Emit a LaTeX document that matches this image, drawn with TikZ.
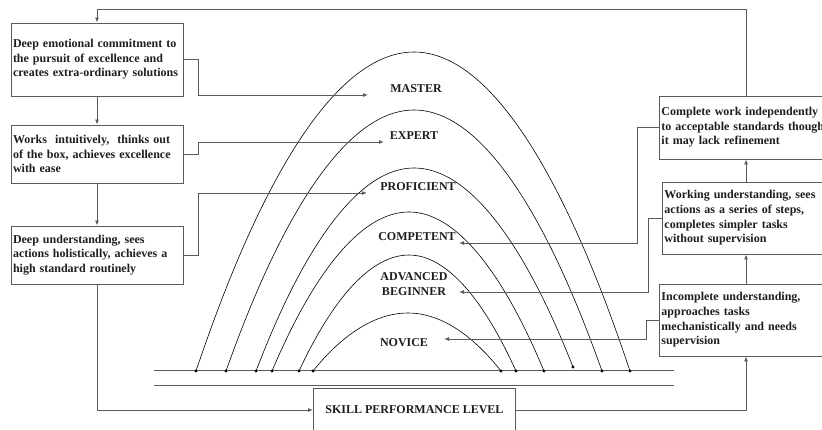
\documentclass[tikz,border=0pt]{standalone}
\usepackage{fontspec}
\setmainfont{Liberation Serif}
\usetikzlibrary{arrows.meta}
\definecolor{boxgray}{HTML}{5A5A5A}
\definecolor{inkgray}{HTML}{1E1E1E}
\begin{document}
\begin{tikzpicture}[x=1pt,y=-1pt,
  every node/.style={font=\fontsize{12}{14.6}\selectfont\bfseries, text=inkgray},
  textbox/.style={draw=boxgray, line width=0.9pt, align=left, inner xsep=2pt, inner ysep=0pt},
  lbox/.style={textbox, text width=168pt, minimum width=172pt},
  rbox/.style={textbox, text width=178pt, minimum width=182pt, anchor=west},
  level/.style={align=center, inner sep=0pt},
  conn/.style={draw=boxgray, line width=0.9pt},
  arr/.style={conn, -{Latex[length=5pt,width=4pt]}},
  arc/.style={draw=black, line width=0.6pt},
  base/.style={draw=boxgray, line width=1pt},
  dot/.style={fill=black, circle, inner sep=0pt, minimum size=3.2pt}
]
\useasboundingbox (0,0) rectangle (822,430);
\clip (0,0) rectangle (822,430);
\fill[white] (0,0) rectangle (822,430);

% left column of descriptions
\node[lbox, minimum height=73pt] (b1) at (97,59.5)
  {Deep emotional commitment to\\the pursuit of excellence and\\creates extra-ordinary solutions};
\node[lbox, minimum height=58pt] (b2) at (97,154)
  {Works\ \ intuitively,\ \ thinks out\\of the box, achieves excellence\\with ease};
\node[lbox, minimum height=58pt] (b3) at (97,255)
  {Deep understanding, sees\\actions holistically, achieves a\\high standard routinely};

% right column of descriptions
\node[rbox, minimum height=63pt] (r1) at (659,127.5)
  {Complete work independently\\to acceptable standards though\\it may lack refinement};
\node[rbox, minimum height=72pt] (r2) at (662,218)
  {Working understanding, sees\\actions as a series of steps,\\completes simpler tasks\\without supervision};
\node[rbox, minimum height=72pt] (r3) at (659,320)
  {Incomplete understanding,\\approaches tasks\\mechanistically and needs\\supervision};

% bottom box
\node[textbox, anchor=west, minimum width=202pt, minimum height=44pt, align=center] (skill) at (313,410)
  {SKILL PERFORMANCE LEVEL};

% skill level labels
\node[level] (master) at (416,89) {MASTER};
\node[level] (expert) at (414,136) {EXPERT};
\node[level] (prof) at (418,187) {PROFICIENT};
\node[level] (comp) at (417,237) {COMPETENT};
\node[level] (adv) at (414,284) {ADVANCED\\BEGINNER};
\node[level] (nov) at (404,343) {NOVICE};

% arrow tips beside the labels
\coordinate (tM) at (368,95);
\coordinate (tE) at (384,142);
\coordinate (tP) at (367,193);
\coordinate (tC) at (459,243);
\coordinate (tA) at (459,292);
\coordinate (tN) at (444,339);
\coordinate (fb) at (746,9);

% base lines
\draw[base] (154,370) -- (674,370);
\draw[base] (154,385) -- (674,385);

% nested skill arcs with their foot points
\coordinate (n1) at (313,371); \coordinate (n2) at (501,371);
\coordinate (a1) at (299,371); \coordinate (a2) at (516,371);
\coordinate (c1) at (272,371); \coordinate (c2) at (544,371);
\coordinate (p1) at (256,371); \coordinate (p2) at (573,367);
\coordinate (e1) at (226,371); \coordinate (e2) at (602,371);
\coordinate (m1) at (196,371); \coordinate (m2) at (630,371);
\draw[arc] (n1) parabola bend (408,313) (n2);
\draw[arc] (a1) parabola bend (409,255) (a2);
\draw[arc] (c1) parabola bend (409,212) (c2);
\draw[arc] (p1) parabola bend (414,168) (p2);
\draw[arc] (e1) parabola bend (414,110) (e2);
\draw[arc] (m1) parabola bend (414,52) (m2);
\foreach \p in {n1,n2,a1,a2,c1,c2,p1,p2,e1,e2,m1,m2}
  \node[dot] at (\p) {};

% progression down the left column
\draw[arr] (b1.south) -- (b2.north);
\draw[arr] (b2.south) -- (b3.north);

% left descriptions to their levels
\draw[arr] (b1.east) -- (198,59.5) |- (tM);
\draw[arr] (b2.east) -- (198,154) |- (tE);
\draw[arr] (b3.east) -- (198,255) |- (tP);

% right descriptions to their levels
\draw[arr] (r1.west) -- (637,127.5) |- (tC);
\draw[arr] (r2.west) -- (648,218) |- (tA);
\draw[arr] (r3.west) -- (646,320) |- (tN);

% progression up the right column
\draw[arr] (r3.north -| fb) -- (r2.south -| fb);
\draw[arr] (r2.north -| fb) -- (r1.south -| fb);

% outer loop through the performance level
\draw[arr] (b3.south) |- (skill.west);
\draw[arr] (skill.east) -| (r3.south -| fb);
\draw[arr] (r1.north -| fb) -- (fb) -| (b1.north);
\end{tikzpicture}
\end{document}
